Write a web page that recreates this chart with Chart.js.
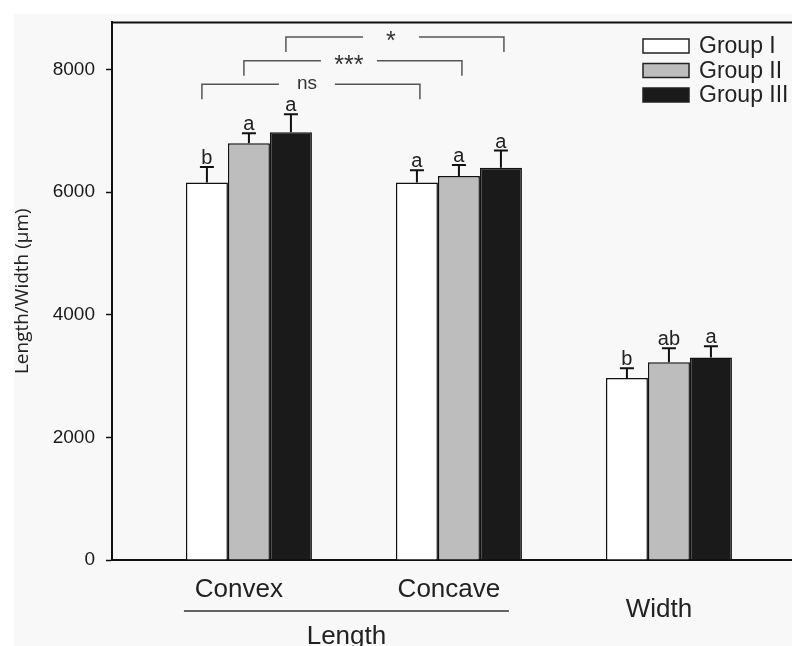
<!DOCTYPE html>
<html>
<head>
<meta charset="utf-8">
<script src="https://cdn.jsdelivr.net/npm/chart.js@4/dist/chart.umd.min.js"></script>
<style>
  html, body { margin: 0; padding: 0; background: #fff; }
  #wrap { width: 792px; height: 646px; }
</style>
</head>
<body>
<div id="wrap"><canvas id="myChart"></canvas></div>
<script>
// categories on the x axis, first two belong to "Length"
const categories = ["Convex", "Concave", "Width"];
const lengthParts = ["Convex", "Concave"];
const groupLabels = ["Group I", "Group II", "Group III"];

// means (µm)
const groupI = [6160, 6160, 2970];
const groupII = [6800, 6265, 3225];
const groupIII = [6980, 6400, 3305];

// upper error bar (SD)
const errI = [250, 200, 160];
const errII = [160, 180, 230];
const errIII = [290, 280, 180];

// letters over the bars
const lettersI = ["b", "a", "b"];
const lettersII = ["a", "a", "ab"];
const lettersIII = ["a", "a", "a"];

// significance brackets between Convex and Concave
const comparisons = [
  { group: 0, level: 7760, text: "ns" },
  { group: 1, level: 8145, text: "***" },
  { group: 2, level: 8530, text: "*" },
];

const yTicks = [0, 2000, 4000, 6000, 8000];

const series = [groupI, groupII, groupIII];
const errors = [errI, errII, errIII];
const letters = [lettersI, lettersII, lettersIII];
const fills = ["#ffffff", "#bdbdbd", "#1a1a1a"];
const FONT = "'Liberation Sans', Arial, sans-serif";

document.addEventListener("DOMContentLoaded", chart);

function chart() {
  const ctx = document.getElementById("myChart");

  const background = {
    id: "background",
    beforeDraw(chart) {
      const c = chart.ctx;
      c.save();
      c.fillStyle = "#ffffff";
      c.fillRect(0, 0, chart.width, chart.height);
      c.fillStyle = "#f8f8f8";
      c.fillRect(14, 14, chart.width - 14, chart.height - 14);
      c.restore();
    },
  };

  const extras = {
    id: "extras",
    afterDatasetsDraw(chart) {
      const c = chart.ctx;
      const x = chart.scales.x;
      const y = chart.scales.y;
      const area = chart.chartArea;
      c.save();

      // top frame line
      c.strokeStyle = "#111";
      c.lineWidth = 2;
      c.beginPath();
      c.moveTo(area.left, area.top);
      c.lineTo(area.right, area.top);
      c.stroke();

      // error bars + letters
      series.forEach((vals, d) => {
        chart.getDatasetMeta(d).data.forEach((bar, i) => {
          const top = y.getPixelForValue(vals[i] + errors[d][i]);
          c.strokeStyle = "#111";
          c.lineWidth = 2;
          c.beginPath();
          c.moveTo(bar.x, bar.y);
          c.lineTo(bar.x, top);
          c.moveTo(bar.x - 7, top);
          c.lineTo(bar.x + 7, top);
          c.stroke();
          c.fillStyle = "#222";
          c.font = "20px " + FONT;
          c.textAlign = "center";
          c.textBaseline = "alphabetic";
          c.fillText(letters[d][i], bar.x, top - 3);
        });
      });

      // brackets
      comparisons.forEach((cmp) => {
        const bars = chart.getDatasetMeta(cmp.group).data;
        const xl = bars[0].x - 5;
        const xr = bars[1].x + 3;
        const yl = y.getPixelForValue(cmp.level);
        const mid = (xl + xr) / 2 - 4;
        c.strokeStyle = "#555";
        c.lineWidth = 1.5;
        c.beginPath();
        c.moveTo(xl, yl + 15);
        c.lineTo(xl, yl);
        c.lineTo(mid - 28, yl);
        c.moveTo(mid + 28, yl);
        c.lineTo(xr, yl);
        c.lineTo(xr, yl + 15);
        c.stroke();
        c.fillStyle = "#333";
        c.textAlign = "center";
        c.textBaseline = "alphabetic";
        const stars = cmp.text.includes("*");
        c.font = (stars ? "25px " : "19px ") + FONT;
        c.fillText(cmp.text, mid, yl + (stars ? 12 : 5));
      });

      // x labels
      c.fillStyle = "#222";
      c.font = "26px " + FONT;
      c.textAlign = "center";
      c.textBaseline = "alphabetic";
      categories.forEach((cat, i) => {
        const px = x.getPixelForValue(i + 1) - 10;
        const base = lengthParts.includes(cat) ? 597 : 617;
        c.fillText(cat, px, base);
      });
      const lx1 = x.getPixelForValue(1) - 65;
      const lx2 = x.getPixelForValue(lengthParts.length) + 50;
      c.strokeStyle = "#333";
      c.lineWidth = 1.5;
      c.beginPath();
      c.moveTo(lx1, 611);
      c.lineTo(lx2, 611);
      c.stroke();
      c.fillText("Length", (lx1 + lx2) / 2, 644);

      // legend
      groupLabels.forEach((label, d) => {
        const cy = 46 + d * 24.5;
        c.fillStyle = fills[d];
        c.fillRect(643, cy - 7, 46, 14);
        c.strokeStyle = "#222";
        c.lineWidth = 1.5;
        c.strokeRect(643, cy - 7, 46, 14);
        c.fillStyle = "#222";
        c.font = "23px " + FONT;
        c.textAlign = "left";
        c.textBaseline = "middle";
        c.fillText(label, 699, cy + 1);
      });

      c.restore();
    },
  };

  new Chart(ctx, {
    type: "bar",
    data: {
      datasets: series.map((vals, d) => ({
        label: groupLabels[d],
        data: vals.map((v, i) => ({ x: i + 1, y: v })),
        backgroundColor: fills[d],
        borderColor: "#111",
        borderWidth: 1.5,
        categoryPercentage: 0.6,
        barPercentage: 1.0,
      })),
    },
    options: {
      responsive: true,
      maintainAspectRatio: false,
      animation: false,
      layout: { padding: { top: 14, left: 0, right: 0, bottom: 0 } },
      plugins: {
        legend: { display: false },
        tooltip: { enabled: false },
      },
      scales: {
        x: {
          type: "linear",
          min: 0.348,
          max: 3.586,
          offset: false,
          afterBuildTicks(scale) {
            scale.ticks = categories.map((c, i) => ({ value: i + 1 }));
          },
          ticks: { display: false },
          grid: { display: false },
          border: { color: "#111", width: 2 },
          afterFit(scale) {
            scale.height = 86;
          },
        },
        y: {
          min: 0,
          max: 8770,
          afterBuildTicks(scale) {
            scale.ticks = yTicks.map((v) => ({ value: v }));
          },
          ticks: {
            font: { size: 19, family: FONT },
            color: "#1a1a1a",
            padding: 11,
            callback: (v) => String(v),
          },
          grid: {
            drawOnChartArea: false,
            tickLength: 6,
            color: "#111",
            tickWidth: 1.5,
          },
          border: { color: "#111", width: 2 },
          title: {
            display: true,
            text: "Length/Width (µm)",
            font: { size: 19, family: "'Open Sans', sans-serif" },
            color: "#222",
            padding: { top: 11, bottom: 0 },
          },
          afterFit(scale) {
            scale.width = 112;
          },
        },
      },
    },
    plugins: [background, extras],
  });
}
</script>
</body>
</html>
